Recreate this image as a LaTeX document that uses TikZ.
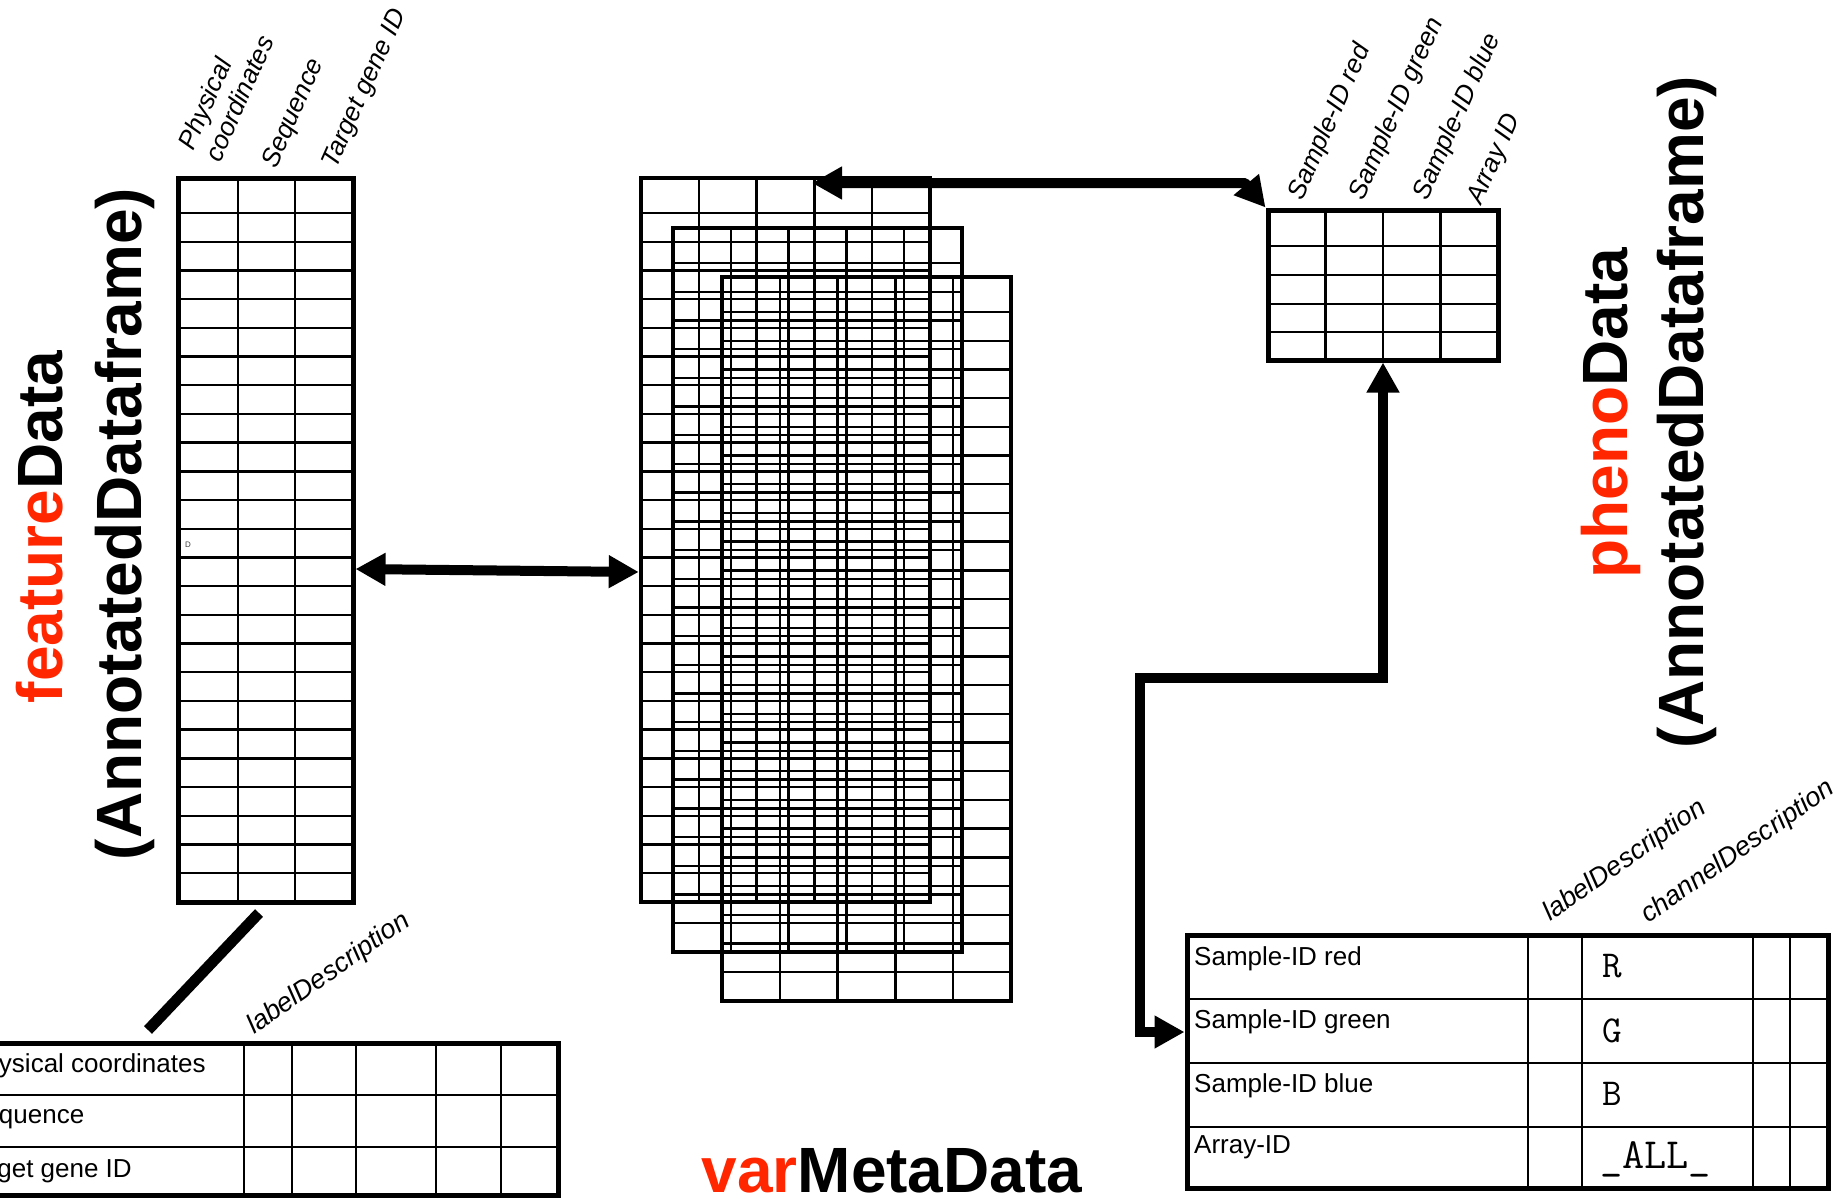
\documentclass[tikz,border=0pt]{standalone}
\usepackage{fontspec}
\setmainfont{Liberation Sans}
\usetikzlibrary{arrows.meta,calc}
\definecolor{titlered}{RGB}{255,38,0}

\begin{document}
\begin{tikzpicture}[x=1pt,y=-1pt,
  frame/.style 2 args={draw, line width=5pt, inner sep=0pt, minimum width=#1, minimum height=#2},
  gridframe/.style 2 args={frame={#1}{#2}, line width=4.5pt},
  rule/.style={line width=2.4pt},
  tip/.tip={Triangle[length=30pt,width=31pt]},
  conn/.style={line width=10pt, tip-tip},
  bar/.style={line width=11pt},
  colhead/.style={font=\itshape\fontsize{26}{30}\selectfont, rotate=66, anchor=base west, inner sep=0pt},
  diaghead/.style={font=\itshape\fontsize{27}{30}\selectfont, rotate=35, anchor=base west, inner sep=0pt},
  cell/.style={font=\fontsize{26}{30}\selectfont, anchor=base west, inner sep=0pt},
  code/.style={font=\ttfamily\fontsize{#1}{44}\selectfont, anchor=base west, inner sep=0pt},
  title/.style={font=\bfseries\fontsize{64}{70}\selectfont, anchor=base, inner sep=0pt},
  vtitle/.style={title, rotate=90}]

\useasboundingbox (0,0) rectangle (1847,1199);
\fill[white] (0,0) rectangle (1847,1199);

% ---------- feature table ----------
\foreach \k in {0,...,23} \draw[rule] (178,{213+28.7*\k}) -- (353,{213+28.7*\k});
\foreach \x in {238,295} \draw[rule] (\x,178) -- (\x,902);
\node[frame={175}{724}] (feat) at (265.5,540) {};
\node[font=\fontsize{8}{9}\selectfont, text=darkgray, inner sep=0pt] (dmark) at (188,545) {D};

\node[colhead] (hPhys)  at (193,152) {Physical};
\node[colhead] (hCoord) at (220,164) {coordinates};
\node[colhead] (hSeq)   at (276,170) {Sequence};
\node[colhead] (hTgt)   at (336,170) {Target gene ID};

\node[vtitle] (featT) at (62,527) {\textcolor{titlered}{feature}Data};
\node[vtitle] (featS) at (141,524) {(AnnotatedDataframe)};

% ---------- stacked assay grids ----------
\foreach \dx/\dy in {0/0, 32/50, 81/99} {
  \foreach \k in {0,...,23}
    \draw[rule] ({641+\dx},{213+\dy+28.7*\k}) -- ({930+\dx},{213+\dy+28.7*\k});
  \foreach \c in {1,...,4}
    \draw[rule] ({641+\dx+57.8*\c},{178+\dy}) -- ({641+\dx+57.8*\c},{902+\dy});
}
\node[gridframe={289}{724}] (gridA) at (785.5,540) {};
\node[gridframe={289}{724}] (gridB) at (817.5,590) {};
\node[gridframe={289}{724}] (gridC) at (866.5,639) {};

\node[title] (varT) at (892,1192) {\textcolor{titlered}{var}MetaData};

% ---------- pheno table ----------
\foreach \y in {246,275,304,332} \draw[rule] (1268,\y) -- (1498,\y);
\foreach \x in {1325.5,1383,1440.5} \draw[rule] (\x,210) -- (\x,360);
\node[frame={230}{150}] (pheno) at (1383,285) {};

\node[colhead] (hRed)   at (1302,202) {Sample-ID red};
\node[colhead] (hGreen) at (1363,202) {Sample-ID green};
\node[colhead] (hBlue)  at (1427,202) {Sample-ID blue};
\node[colhead] (hArr)   at (1481,206) {Array ID};

\node[vtitle] (phenoT) at (1627,413) {\textcolor{titlered}{pheno}Data};
\node[vtitle] (phenoS) at (1703,412) {(AnnotatedDataframe)};

% ---------- channel description table ----------
\foreach \y in {999,1063,1127} \draw[rule] (1187,\y) -- (1828,\y);
\foreach \x in {1528,1582,1753,1790} \draw[rule] (\x,935) -- (\x,1188);
\node[frame={641}{253}] (chan) at (1507.5,1061.5) {};

\node[cell] (cRed)   at (1194,965)  {Sample-ID red};
\node[cell] (cGreen) at (1194,1028) {Sample-ID green};
\node[cell] (cBlue)  at (1194,1092) {Sample-ID blue};
\node[cell] (cArr)   at (1194,1153) {Array-ID};
\node[code=38] (chR) at (1602,977)  {R};
\node[code=38] (chG) at (1602,1042) {G};
\node[code=38] (chB) at (1602,1105) {B};
\node[code=43] (chA) at (1600,1168) {\_ALL\_};

\node[diaghead] (hLab2) at (1550,922) {labelDescription};
\node[diaghead] (hChan) at (1648,924) {channelDescription};

% ---------- label description table ----------
\foreach \y in {1095,1147} \draw[rule] (-60,\y) -- (558,\y);
\foreach \x in {244,292,356,436,501} \draw[rule] (\x,1043) -- (\x,1195);
\node[frame={618}{152}] (lab) at (249,1119) {};

\node[cell] (lPhys) at (-33,1072) {Physical coordinates};
\node[cell] (lSeq)  at (-33,1123) {Sequence};
\node[cell] (lTgt)  at (-39,1177) {Target gene ID};
\node[diaghead] (hLab1) at (254,1035) {labelDescription};

% ---------- connectors ----------
\draw[conn] ([yshift=-29pt]feat.east) -- ([yshift=-32pt]gridA.west);

\coordinate (topL) at (812,183);
\coordinate (topR) at (1245,183);
\draw[conn, line join=round] (topL) -- (topR) -- (pheno.north west);

\coordinate (midBend) at (1140,678);
\draw[conn] (pheno.south) |- (midBend) |- ([yshift=29.5pt]chan.west);

\coordinate (barTop) at (259,913);
\coordinate (barBot) at (148,1030);
\draw[bar] (barBot) -- (barTop);
\end{tikzpicture}
\end{document}
